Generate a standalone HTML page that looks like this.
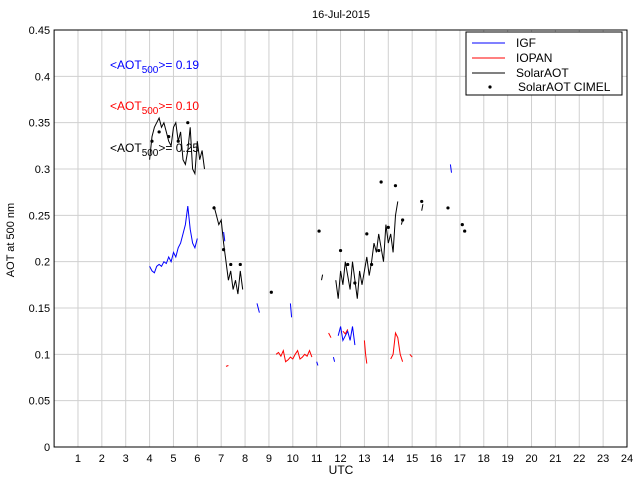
<!DOCTYPE html>
<html><head><meta charset="utf-8"><style>
body{margin:0;background:#fff;font-family:"Liberation Sans",sans-serif}
svg text{font-family:"Liberation Sans",sans-serif}
</style></head><body>
<svg id="c" width="640" height="480" xmlns="http://www.w3.org/2000/svg"></svg>
<script>
const xTicks=[1,2,3,4,5,6,7,8,9,10,11,12,13,14,15,16,17,18,19,20,21,22,23,24];
const yTicks=[0,0.05,0.1,0.15,0.2,0.25,0.3,0.35,0.4,0.45];
const solarT=[4.0,4.1,4.2,4.3,4.4,4.5,4.6,4.7,4.8,4.9,5.0,5.1,5.2,5.3,5.4,5.5,5.6,5.7,5.8,5.9,6.0,6.1,6.2,6.3,null,
6.7,6.8,6.9,7.0,7.1,7.2,7.3,7.4,7.5,7.6,7.7,7.8,7.9,null,11.2,11.25,null,
11.8,11.9,12.0,12.1,12.2,12.3,12.4,12.5,12.6,12.7,12.8,12.9,13.0,13.1,13.2,13.3,13.4,13.5,13.6,13.7,13.8,13.9,14.0,14.1,14.2,14.3,14.4,null,14.55,14.6,null,15.4,15.45];
const solarV=[0.31,0.335,0.345,0.35,0.355,0.345,0.35,0.34,0.33,0.325,0.345,0.35,0.33,0.34,0.31,0.305,0.32,0.345,0.30,0.295,0.33,0.31,0.32,0.30,null,
0.26,0.25,0.24,0.245,0.22,0.20,0.18,0.19,0.17,0.18,0.165,0.19,0.17,null,0.18,0.186,null,
0.18,0.16,0.19,0.175,0.20,0.185,0.17,0.20,0.18,0.16,0.19,0.175,0.19,0.205,0.185,0.20,0.22,0.21,0.23,0.215,0.20,0.24,0.22,0.23,0.21,0.25,0.265,null,0.24,0.245,null,0.255,0.262];
const igfT=[4.0,4.1,4.2,4.3,4.4,4.5,4.6,4.7,4.8,4.9,5.0,5.1,5.2,5.3,5.4,5.5,5.6,5.7,5.8,5.9,6.0,null,7.1,7.15,null,8.5,8.6,null,9.9,9.95,null,11.0,11.05,null,11.7,11.75,null,11.9,12.0,12.1,12.2,12.3,12.4,12.5,12.6,null,16.6,16.65];
const igfV=[0.195,0.19,0.188,0.195,0.197,0.195,0.20,0.198,0.205,0.20,0.21,0.205,0.215,0.22,0.23,0.24,0.26,0.235,0.22,0.215,0.225,null,0.232,0.222,null,0.155,0.145,null,0.155,0.14,null,0.092,0.088,null,0.097,0.092,null,0.12,0.13,0.115,0.12,0.125,0.115,0.13,0.11,null,0.305,0.296];
const iopanT=[7.2,7.3,null,9.3,9.4,9.5,9.6,9.7,9.8,9.9,10.0,10.1,10.2,10.3,10.4,10.5,10.6,10.7,10.8,null,11.5,11.6,null,12.1,12.2,12.3,null,13.0,13.05,13.1,null,14.1,14.2,14.3,14.4,14.5,14.6,null,14.9,15.0];
const iopanV=[0.087,0.088,null,0.10,0.102,0.098,0.104,0.092,0.094,0.097,0.095,0.10,0.104,0.095,0.097,0.10,0.098,0.104,0.097,null,0.123,0.118,null,0.125,0.122,0.127,null,0.115,0.10,0.09,null,0.095,0.10,0.123,0.118,0.10,0.092,null,0.10,0.097];
const cimT=[4.1,4.4,4.8,5.2,5.6,6.7,7.1,7.4,7.8,9.1,11.1,12.0,12.3,12.6,13.1,13.3,13.6,13.7,14.0,14.3,14.6,15.4,16.5,17.1,17.2];
const cimV=[0.33,0.34,0.335,0.33,0.35,0.258,0.213,0.197,0.197,0.167,0.233,0.212,0.197,0.177,0.23,0.197,0.212,0.286,0.237,0.282,0.245,0.265,0.258,0.24,0.233];
const L=54.1,R=627,T=30,B=447;
const xs=v=>L+(v/24)*(R-L), ys=v=>B-(v/0.45)*(B-T);
const svg=document.getElementById('c');const NS='http://www.w3.org/2000/svg';
function mk(tag,attrs,parent){const e=document.createElementNS(NS,tag);for(const k in attrs)e.setAttribute(k,attrs[k]);(parent||svg).appendChild(e);return e;}
let e=mk('rect',{x:L,y:T,width:R-L,height:B-T,fill:'#fff',stroke:'none'});


xTicks.forEach(t=>{let g=mk('line',{x1:xs(t),x2:xs(t),y1:T,y2:B,stroke:'#d0d0d0'});


let l=mk('text',{x:xs(t),y:B+15,'font-size':11,'text-anchor':'middle'});l.textContent=t;

});
yTicks.forEach(t=>{let g=mk('line',{x1:L,x2:R,y1:ys(t),y2:ys(t),stroke:'#d0d0d0'});


let l=mk('text',{x:L-4,y:ys(t)+4,'font-size':11,'text-anchor':'end'});l.textContent=t;

});
e=mk('rect',{x:L,y:T,width:R-L,height:B-T,fill:'none',stroke:'#000'});


function line(tA,vA,color,name){let d='',pen=false;for(let i=0;i<tA.length;i++){if(tA[i]===null){pen=false;continue;}d+=(pen?'L':'M')+xs(tA[i]).toFixed(1)+' '+ys(vA[i]).toFixed(1);pen=true;}
let p=mk('path',{d:d,fill:'none',stroke:color,'stroke-width':1});

}
line(igfT,igfV,'#0000ff','igf-series');
line(iopanT,iopanV,'#ff0000','iopan-series');
line(solarT,solarV,'#000','solaraot-series');
cimT.forEach((t,i)=>{let c=mk('circle',{cx:xs(t),cy:ys(cimV[i]),r:1.6,fill:'#000'});

});
</script>
<svg style="position:absolute;left:0;top:0" width="640" height="480" xmlns="http://www.w3.org/2000/svg">
<text x="341" y="18" font-size="11" text-anchor="middle">16-Jul-2015</text>
<text x="341" y="474" font-size="12" text-anchor="middle">UTC</text>
<text transform="translate(14,240) rotate(-90)" font-size="11" text-anchor="middle">AOT at 500 nm</text>
<text x="110" y="69" font-size="12" fill="#0000ff">&lt;AOT<tspan dy="4" font-size="10">500</tspan><tspan dy="-4">&gt;= 0.19</tspan></text>
<text x="110" y="110" font-size="12" fill="#ff0000">&lt;AOT<tspan dy="4" font-size="10">500</tspan><tspan dy="-4">&gt;= 0.10</tspan></text>
<text x="110" y="152" font-size="12" fill="#000">&lt;AOT<tspan dy="4" font-size="10">500</tspan><tspan dy="-4">&gt;= 0.25</tspan></text>
<g>
<rect x="466" y="32" width="156" height="63" fill="#fff" stroke="#000"/>
<line x1="472" y1="43" x2="505" y2="43" stroke="#0000ff"/><text x="516" y="47" font-size="12">IGF</text>
<line x1="472" y1="58" x2="505" y2="58" stroke="#ff0000"/><text x="516" y="62" font-size="12">IOPAN</text>
<line x1="472" y1="73" x2="505" y2="73" stroke="#000"/><text x="516" y="77" font-size="12">SolarAOT</text>
<circle cx="490" cy="87" r="1.6" fill="#000"/><text x="518" y="91" font-size="12">SolarAOT CIMEL</text>
</g>
</svg>
</body></html>
